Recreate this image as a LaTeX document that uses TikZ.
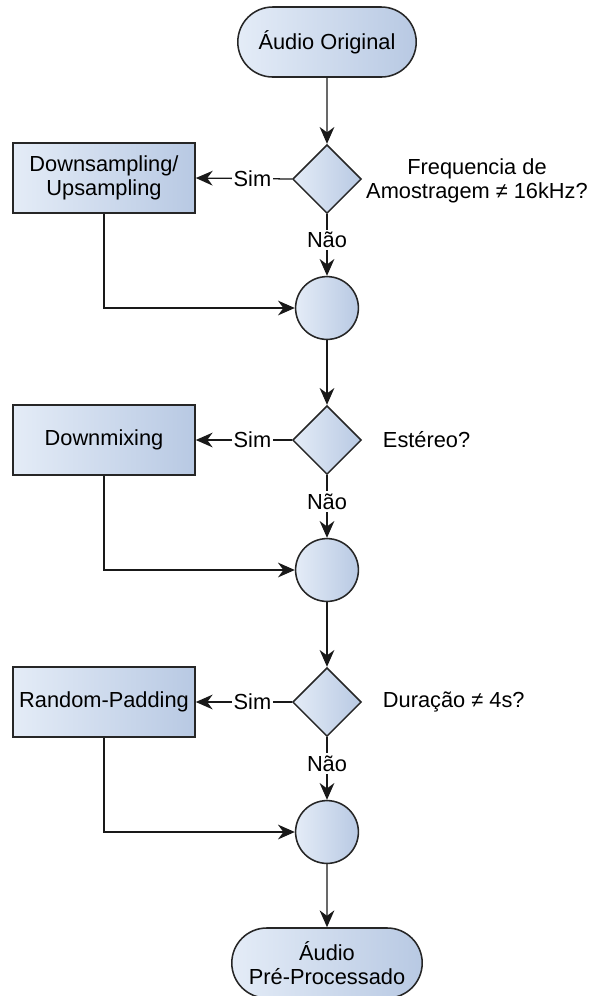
\documentclass[tikz,border=0pt]{standalone}
\usepackage{fontspec}
\setmainfont{Liberation Sans}
\usepackage{tikz}
\usetikzlibrary{arrows.meta,shapes.geometric,shapes.misc}
\definecolor{fillA}{RGB}{228,236,247}
\definecolor{fillB}{RGB}{184,201,227}
\tikzset{>={Stealth[length=12pt,width=10.5pt]}}
\tikzset{
  grad/.style={draw=black!85,line width=1.1pt,left color=fillA,right color=fillB},
  term/.style={grad,rounded rectangle,minimum height=1.75cm,inner sep=2pt,align=center},
  proc/.style={grad,rectangle,minimum width=4.55cm,minimum height=1.75cm,align=center},
  test/.style={grad,diamond,minimum width=1.72cm,minimum height=1.72cm,inner sep=0pt},
  juncao/.style={grad,circle,minimum size=1.57cm,inner sep=0pt},
  flow/.style={->,line width=0.9pt,draw=black!90},
  lbl/.style={fill=white,inner sep=1.5pt}
}

\begin{document}
\begin{tikzpicture}[x=0.025cm,y=-0.025cm,font=\fontsize{15.5}{17.5}\selectfont]
\useasboundingbox (0,0) rectangle (591,996);

\node[term,minimum width=4.6cm] (ini) at (327,42) {Áudio Original};

\node[test] (d1) at (327,179) {};
\node[proc] (p1) at (104,178) {Downsampling/\\Upsampling};
\node[align=center] (q1) at (477,181) {Frequencia de\\Amostragem ≠ 16kHz?};
\node[juncao] (j1) at (327,308) {};

\node[test] (d2) at (327,440) {};
\node[proc] (p2) at (104,440) {Downmixing};
\node[anchor=west] (q2) at (378,440) {Estéreo?};
\node[juncao] (j2) at (327,570) {};

\node[test] (d3) at (327,702) {};
\node[proc] (p3) at (104,702) {Random-Padding};
\node[anchor=west] (q3) at (378,702) {Duração ≠ 4s?};
\node[juncao] (j3) at (327,832) {};

\node[term,minimum width=4.9cm] (fim) at (327,963) {Áudio\\Pré-Processado};

\draw[flow] (ini) -- (d1);
\draw[flow] (d1.west) -- node[lbl,pos=0.41] {Sim} (p1.east);
\draw[flow] (d1.south) -- node[lbl,pos=0.42] {Não} (j1.north);
\draw[flow] (p1.south) |- (j1.west);
\draw[flow] (j1) -- (d2);

\draw[flow] (d2.west) -- node[lbl,pos=0.41] {Sim} (p2.east);
\draw[flow] (d2.south) -- node[lbl,pos=0.42] {Não} (j2.north);
\draw[flow] (p2.south) |- (j2.west);
\draw[flow] (j2) -- (d3);

\draw[flow] (d3.west) -- node[lbl,pos=0.41] {Sim} (p3.east);
\draw[flow] (d3.south) -- node[lbl,pos=0.42] {Não} (j3.north);
\draw[flow] (p3.south) |- (j3.west);
\draw[flow] (j3) -- (fim);
\end{tikzpicture}
\end{document}
